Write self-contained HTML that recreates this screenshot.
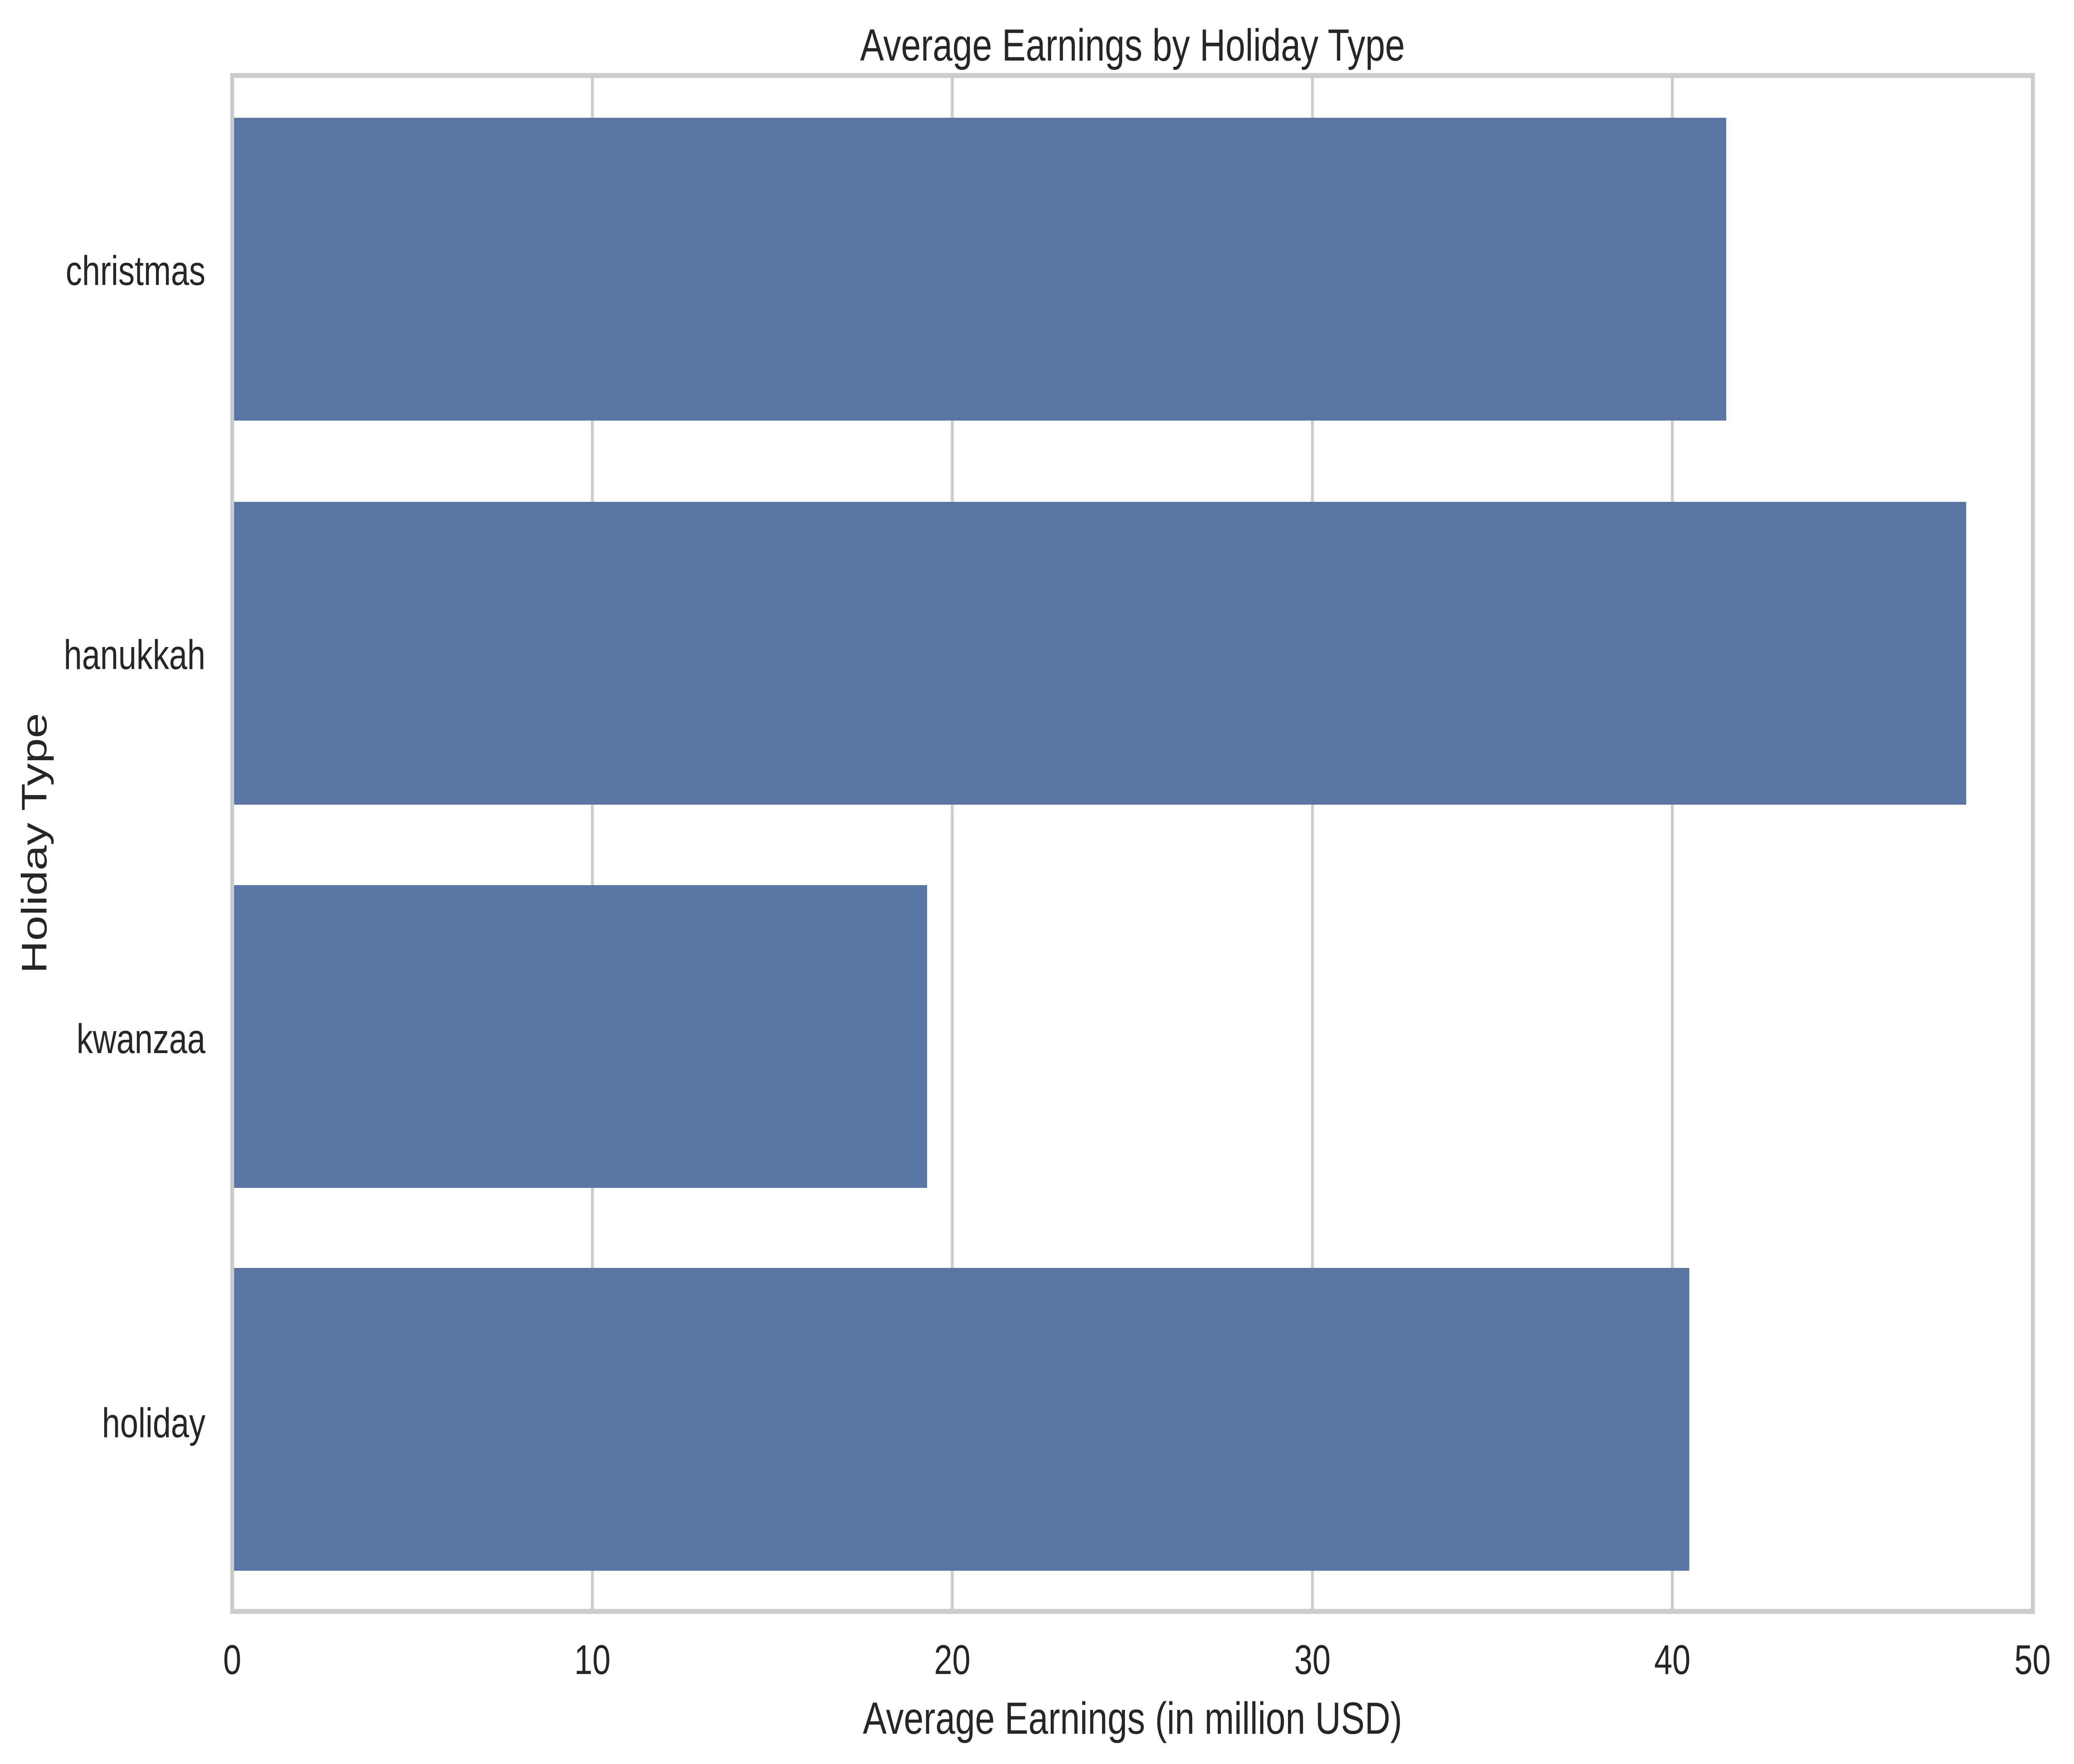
<!DOCTYPE html>
<html><head><meta charset="utf-8"><style>html,body{margin:0;padding:0;background:#fff;width:100%;height:100%;overflow:hidden}svg{display:block;position:absolute;left:0;top:0;width:100vw;height:100vh}</style></head>
<body>
<svg viewBox="0 0 6351 4253" preserveAspectRatio="none" xmlns="http://www.w3.org/2000/svg" font-family="Liberation Sans, Arial, sans-serif" fill="#262626">
<rect width="6351" height="4253" fill="#fff"/>
<g stroke="#cccccc" stroke-width="9">
<line x1="1814" y1="182" x2="1814" y2="3885"/>
<line x1="2916" y1="182" x2="2916" y2="3885"/>
<line x1="4019" y1="182" x2="4019" y2="3885"/>
<line x1="5121" y1="182" x2="5121" y2="3885"/>
<line x1="6224" y1="182" x2="6224" y2="3885"/>
</g>
<g fill="#5975a4">
<rect x="711" y="284" width="4575" height="730"/>
<rect x="711" y="1210" width="5310" height="730"/>
<rect x="711" y="2134" width="2128" height="730"/>
<rect x="711" y="3057" width="4462" height="730"/>
</g>
<rect x="711" y="182" width="5514" height="3703" fill="none" stroke="#cccccc" stroke-width="12"/>
<g font-size="100" text-anchor="end">
<text x="629" y="687">christmas</text>
<text x="629" y="1613">hanukkah</text>
<text x="629" y="2539">kwanzaa</text>
<text x="629" y="3465">holiday</text>
</g>
<g font-size="100" text-anchor="middle">
<text x="711" y="4036">0</text>
<text x="1814" y="4036">10</text>
<text x="2916" y="4036">20</text>
<text x="4019" y="4036">30</text>
<text x="5121" y="4036">40</text>
<text x="6224" y="4036">50</text>
</g>
<text x="3468" y="4180" font-size="109" text-anchor="middle">Average Earnings (in million USD)</text>
<text x="3468" y="146" font-size="109" text-anchor="middle">Average Earnings by Holiday Type</text>
<text transform="translate(142,2033) rotate(-90)" font-size="109" text-anchor="middle">Holiday Type</text>
</svg>
</body></html>
